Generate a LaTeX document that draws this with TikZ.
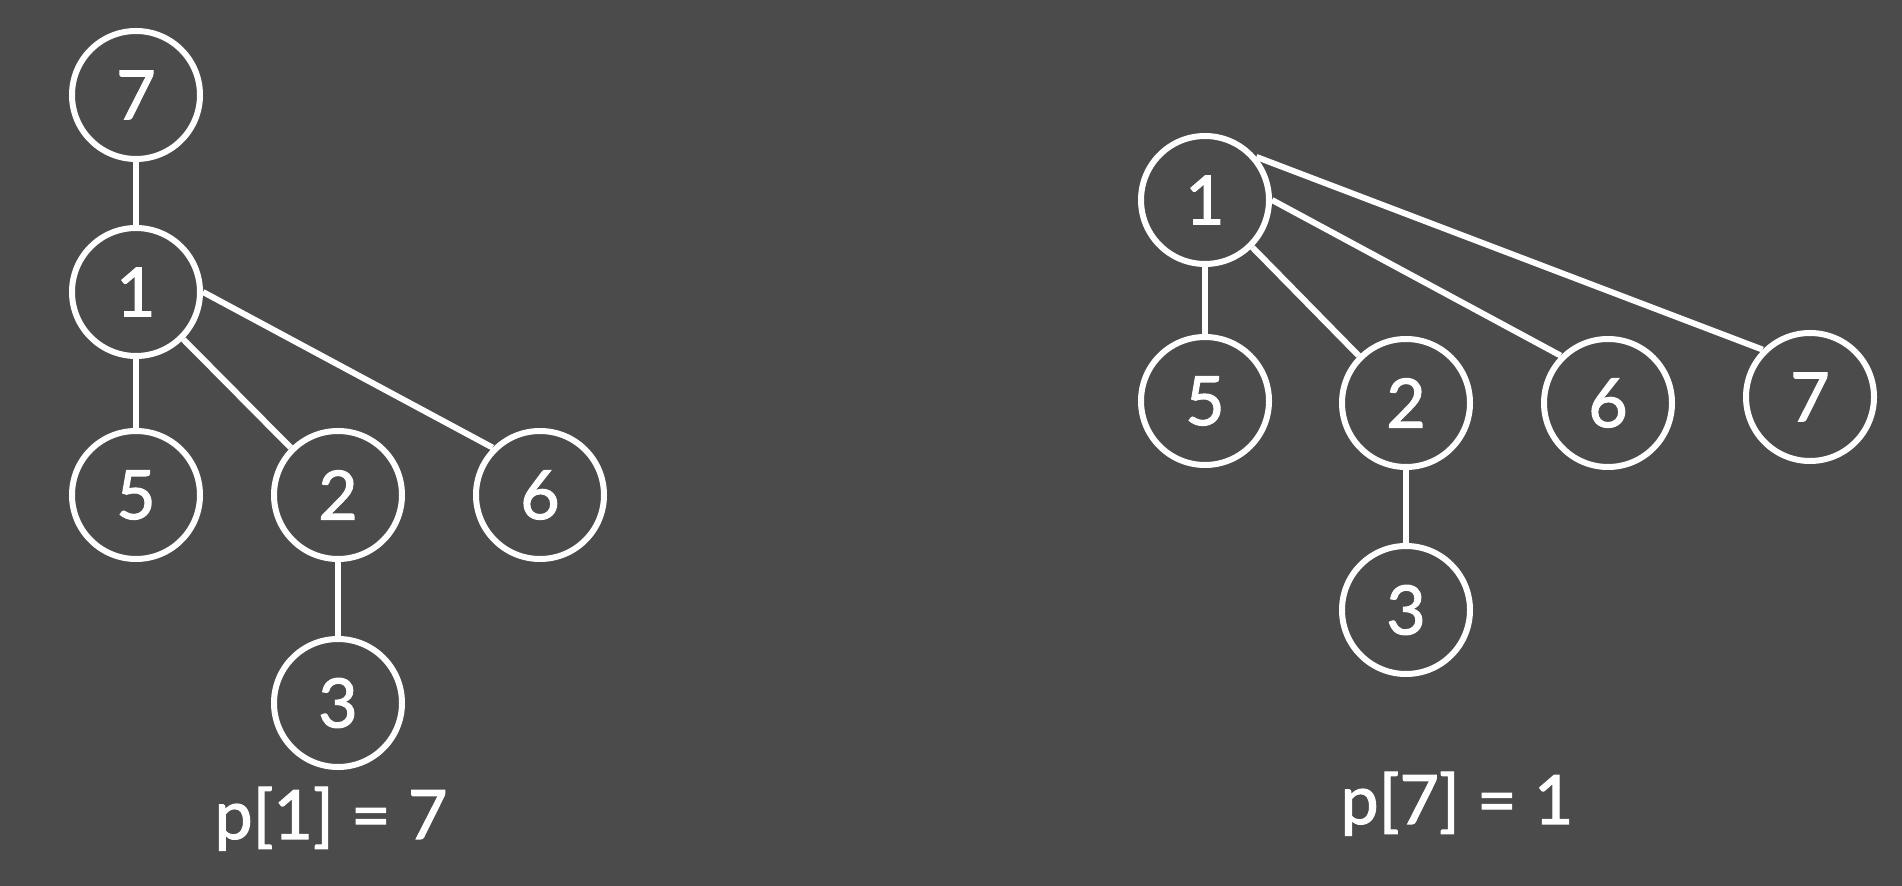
\documentclass[tikz,border=0pt]{standalone}
\usepackage{fontspec}
\setmainfont{Lato}
\newfontface\nf{Lato}[FakeBold=1.6]
\definecolor{bg}{RGB}{76,75,76}
\begin{document}
\begin{tikzpicture}[x=0.5pt,y=-0.5pt,
  vtx/.style={circle,draw=white,line width=3pt,minimum size=64pt,inner sep=0pt,text=white,font=\nf\fontsize{34}{40}\selectfont},
  edge/.style={draw=white,line width=3pt},
  lbl/.style={anchor=base,text=white,font=\nf\fontsize{34}{40}\selectfont,inner sep=0pt}]
\fill[bg] (0,0) rectangle (1902,886);
\useasboundingbox (0,0) rectangle (1902,886);
% left tree
\node[vtx] (l7) at (136,95) {7};
\node[vtx] (l1) at (136,292) {1};
\node[vtx] (l5) at (136,495) {5};
\node[vtx] (l2) at (338,495) {2};
\node[vtx] (l6) at (540,495) {6};
\node[vtx] (l3) at (338,703) {3};
\draw[edge] (l7) -- (l1);
\draw[edge] (l1) -- (l5);
\draw[edge] (l1.-45) -- (l2.135);
\draw[edge] (l1.east) -- (l6.135);
\draw[edge] (l2) -- (l3);
\node[lbl] (ll) at (331,839) {p[1] = 7};
% right tree
\node[vtx] (r1) at (1205,200) {1};
\node[vtx] (r5) at (1205,401) {5};
\node[vtx] (r2) at (1406,403) {2};
\node[vtx] (r6) at (1608,403) {6};
\node[vtx] (r7) at (1810,397) {7};
\node[vtx] (r3) at (1406,610) {3};
\draw[edge] (r1) -- (r5);
\draw[edge] (r1.-45) -- (r2.135);
\draw[edge] (r1.east) -- (r6.135);
\draw[edge] (r1.40) -- (r7.135);
\draw[edge] (r2) -- (r3);
\node[lbl] (rl) at (1457,824) {p[7] = 1};
\end{tikzpicture}
\end{document}
